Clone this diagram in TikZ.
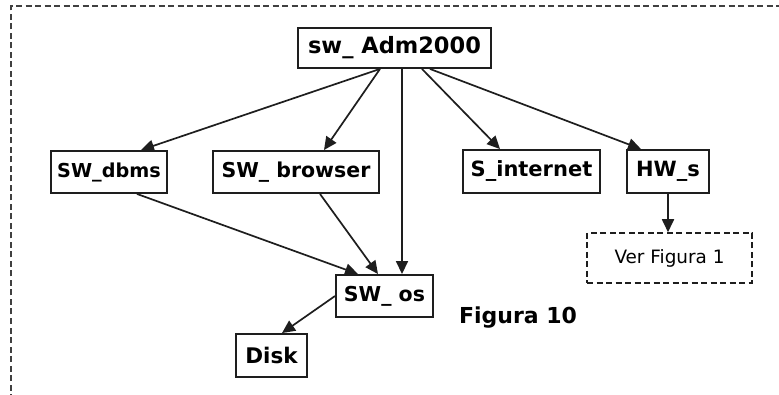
\documentclass[tikz,border=0pt]{standalone}
\usepackage{fontspec}
\setmainfont{DejaVu Sans}
\usetikzlibrary{arrows.meta}
\definecolor{ink}{RGB}{30,30,30}
\tikzset{
  box/.style={draw=ink, line width=1.9pt, inner sep=0pt, font=\bfseries\fontsize{20.5}{22}\selectfont, text=black},
  notebox/.style={draw=ink, line width=1.5pt, dash pattern=on 6pt off 3.5pt, inner sep=0pt, font=\fontsize{18.4}{20}\selectfont, text=black},
  link/.style={draw=ink, line width=1.7pt, -{Triangle[length=13pt,width=12pt]}},
  frame/.style={draw=ink!85, line width=1.3pt, dash pattern=on 6pt off 3.5pt}
}
\begin{document}
\begin{tikzpicture}[x=1pt, y=-1pt]
  \useasboundingbox (0,0) rectangle (779,395);
  \fill[white] (0,0) rectangle (779,395);

  % outer dashed frame (continues past the page on the right and bottom)
  \draw[frame] (11,400) -- (11,6) -- (790,6);

  % nodes
  \node[box, minimum width=193pt, minimum height=40pt, font=\bfseries\fontsize{22.5}{24}\selectfont] (adm) at (394.5,48) {sw\_ Adm2000};
  \node[box, minimum width=116pt, minimum height=42pt, font=\bfseries\fontsize{19.2}{21}\selectfont] (dbms) at (109,172) {SW\_dbms};
  \node[box, minimum width=166pt, minimum height=42pt] (browser) at (296,172) {SW\_ browser};
  \node[box, minimum width=137pt, minimum height=43pt, font=\bfseries\fontsize{21}{23}\selectfont] (internet) at (531.5,171.5) {S\_internet};
  \node[box, minimum width=82pt, minimum height=43pt, font=\bfseries\fontsize{21}{23}\selectfont] (hw) at (668,171.5) {HW\_s};
  \node[notebox, minimum width=165pt, minimum height=50pt] (ver) at (669.5,258) {Ver Figura 1};
  \node[box, minimum width=97pt, minimum height=42pt] (os) at (384.5,296) {SW\_ os};
  \node[box, minimum width=71pt, minimum height=43pt, font=\bfseries\fontsize{21.5}{23}\selectfont] (disk) at (271.5,355.5) {Disk};
  \node[font=\bfseries\fontsize{22}{24}\selectfont, inner sep=0pt] (fig) at (518,318) {Figura 10};

  % connectors
  \draw[link] ([xshift=-14.5pt]adm.south) -- ([xshift=32pt]dbms.north);
  \draw[link] ([xshift=-14.5pt]adm.south) -- ([xshift=28pt]browser.north);
  \draw[link] ([xshift=7.5pt]adm.south) -- ([xshift=17.5pt]os.north);
  \draw[link] ([xshift=27.5pt]adm.south) -- ([xshift=-31.5pt]internet.north);
  \draw[link] ([xshift=35.5pt]adm.south) -- ([xshift=-27pt]hw.north);
  \draw[link] ([xshift=28pt]dbms.south) -- ([xshift=-26.5pt]os.north);
  \draw[link] ([xshift=24pt]browser.south) -- ([xshift=-6.5pt]os.north);
  \draw[link] (hw.south) -- (hw.south |- ver.north);
  \draw[link] (os.west) -- ([xshift=10.5pt]disk.north);
\end{tikzpicture}
\end{document}
